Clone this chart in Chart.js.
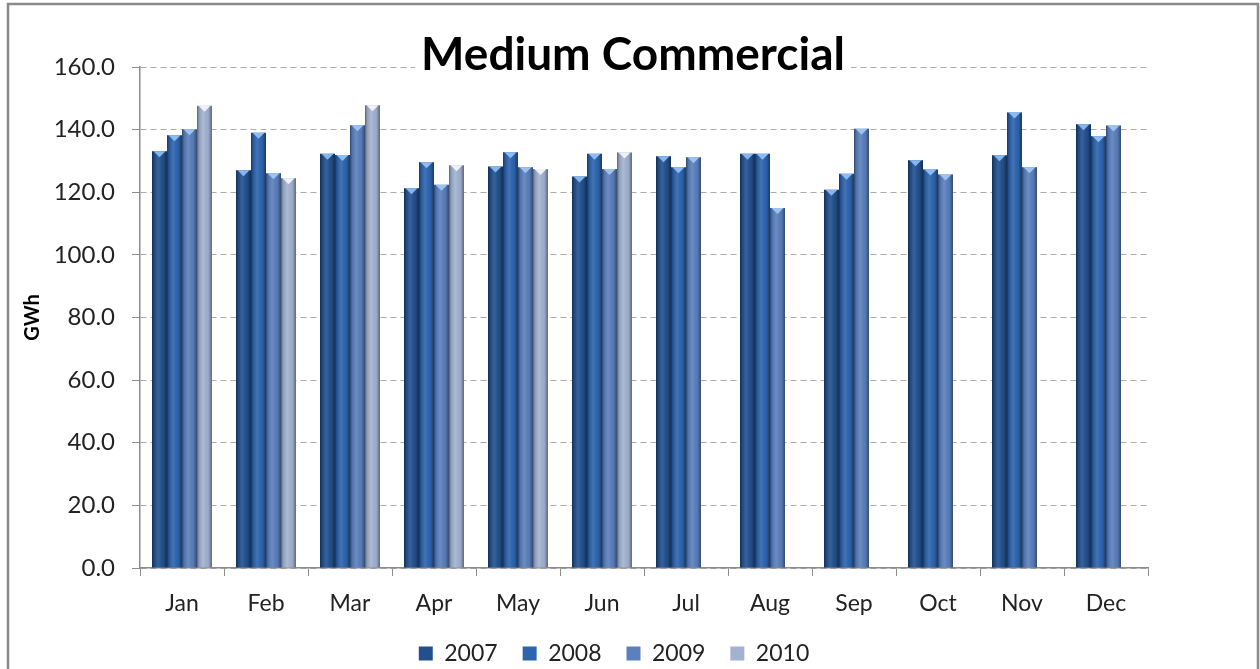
<!DOCTYPE html>
<html>
<head>
<meta charset="utf-8">
<title>Medium Commercial</title>
<script src="https://cdn.jsdelivr.net/npm/chart.js@4.4.1/dist/chart.umd.min.js"></script>
<style>
  html, body { margin: 0; padding: 0; background: #ffffff; overflow: hidden; }
  #wrap { position: relative; width: 1260px; height: 669px; overflow: hidden; }
</style>
</head>
<body>
<div id="wrap"><canvas id="chart" width="1260" height="680"></canvas></div>
<script>
// Monthly energy use, GWh
const months = ['Jan', 'Feb', 'Mar', 'Apr', 'May', 'Jun', 'Jul', 'Aug', 'Sep', 'Oct', 'Nov', 'Dec'];
const gwh2007 = [133.1, 127.0, 132.3, 121.3, 128.2, 125.0, 131.5, 132.3, 120.8, 130.2, 131.8, 141.7];
const gwh2008 = [138.2, 139.0, 131.9, 129.6, 132.8, 132.3, 128.0, 132.3, 125.9, 127.3, 145.5, 137.9];
const gwh2009 = [140.1, 126.1, 141.4, 122.4, 128.0, 127.4, 131.2, 115.0, 140.3, 125.7, 128.0, 141.3];
const gwh2010 = [147.6, 124.5, 147.8, 128.6, 127.4, 132.7, null, null, null, null, null, null];
const seriesNames = ['2007', '2008', '2009', '2010'];
const yTicks = { min: 0, max: 160, step: 20 };

const chartTitle = 'Medium Commercial';
const axisTitle = 'GWh';

const baseColors = ['#22508f', '#2d64b0', '#5a80bf', '#a2b3d1'];
const capColors = ['#86b6ee', '#8cbcf2', '#9cc3f0', '#eef2f8'];

Chart.defaults.font.family = 'Lato, "Open Sans", sans-serif';
Chart.defaults.color = '#222222';

// Rounded-column shading and a light bevel on each column top
const columnShade = {
  id: 'columnShade',
  afterDatasetsDraw(chart) {
    const ctx = chart.ctx;
    ctx.save();
    chart.data.datasets.forEach((ds, di) => {
      const meta = chart.getDatasetMeta(di);
      if (meta.hidden) return;
      meta.data.forEach((bar, i) => {
        if (ds.data[i] == null) return;
        const p = bar.getProps(['x', 'y', 'base', 'width'], true);
        const l = p.x - p.width / 2, r = p.x + p.width / 2;
        const g = ctx.createLinearGradient(l, 0, r, 0);
        g.addColorStop(0, 'rgba(0,0,0,0.45)');
        g.addColorStop(0.14, 'rgba(0,0,0,0.12)');
        g.addColorStop(0.42, 'rgba(255,255,255,0.10)');
        g.addColorStop(0.75, 'rgba(0,0,0,0.04)');
        g.addColorStop(1, 'rgba(0,0,0,0.42)');
        ctx.fillStyle = g;
        ctx.fillRect(l, p.y, p.width, p.base - p.y);
        ctx.fillStyle = capColors[di];
        ctx.beginPath();
        ctx.moveTo(l + 1.5, p.y);
        ctx.lineTo(r - 1.5, p.y);
        ctx.lineTo(p.x, p.y + 6);
        ctx.closePath();
        ctx.fill();
      });
    });
    ctx.restore();
  }
};

// Frame around the chart and the heading over the plot top
const frameAndHeading = {
  id: 'frameAndHeading',
  beforeDraw(chart) {
    const ctx = chart.ctx;
    ctx.save();
    ctx.fillStyle = '#ffffff';
    ctx.fillRect(0, 0, chart.width, chart.height);
    ctx.restore();
  },
  afterDraw(chart) {
    const ctx = chart.ctx;
    ctx.save();
    ctx.strokeStyle = '#8a8a8a';
    ctx.lineWidth = 2.5;
    ctx.strokeRect(8, 4, 1250, 700);
    ctx.font = 'bold 46px Lato, "Open Sans", sans-serif';
    ctx.textAlign = 'center';
    ctx.textBaseline = 'alphabetic';
    const w = ctx.measureText(chartTitle).width;
    const cx = 633;
    ctx.fillStyle = '#ffffff';
    ctx.fillRect(cx - w / 2 - 6, 32, w + 12, 42);
    ctx.fillStyle = '#000000';
    ctx.fillText(chartTitle, cx, 70);
    ctx.restore();
  }
};

const series = [gwh2007, gwh2008, gwh2009, gwh2010];

new Chart(document.getElementById('chart'), {
  type: 'bar',
  data: {
    labels: months,
    datasets: series.map((vals, i) => ({
      label: seriesNames[i],
      data: vals,
      backgroundColor: baseColors[i],
      borderWidth: 0,
      categoryPercentage: 0.714,
      barPercentage: 1.0
    }))
  },
  options: {
    responsive: false,
    animation: false,
    layout: { padding: { left: 8, right: 40, top: 67, bottom: 5 } },
    plugins: {
      title: { display: false },
      tooltip: { enabled: false },
      legend: {
        position: 'bottom',
        labels: {
          font: { size: 23 },
          color: '#222222',
          boxWidth: 14,
          boxHeight: 14,
          padding: 25
        }
      }
    },
    scales: {
      x: {
        grid: {
          drawOnChartArea: false,
          drawTicks: true,
          tickLength: 8,
          tickColor: '#8c8c8c',
          offset: true
        },
        border: { color: '#8c8c8c', width: 1.5 },
        ticks: { font: { size: 23 }, color: '#222222', padding: 14 },
        afterFit(scale) { scale.height = 49; }
      },
      y: {
        min: yTicks.min,
        max: yTicks.max,
        grid: {
          color: '#ababab',
          lineWidth: 1,
          tickLength: 8,
          tickColor: '#8c8c8c',
          tickBorderDash: [],
          drawTicks: true
        },
        border: { color: '#8c8c8c', width: 1.5, dash: [6, 4] },
        ticks: {
          stepSize: yTicks.step,
          padding: 17,
          font: { size: 24 },
          color: '#222222',
          callback: (v) => Number(v).toFixed(1)
        },
        title: {
          display: true,
          text: axisTitle,
          font: { size: 20, weight: 'bold' },
          color: '#000000',
          padding: { top: 13, bottom: 0 }
        },
        afterFit(scale) { scale.width = 132; }
      },
      // empty right-hand strip that keeps the plot clear of the frame
      spacer: {
        type: 'linear',
        position: 'right',
        display: true,
        grid: { display: false },
        border: { display: false },
        ticks: { display: false },
        afterFit(scale) { scale.width = 72; }
      }
    }
  },
  plugins: [columnShade, frameAndHeading]
});
</script>
</body>
</html>
